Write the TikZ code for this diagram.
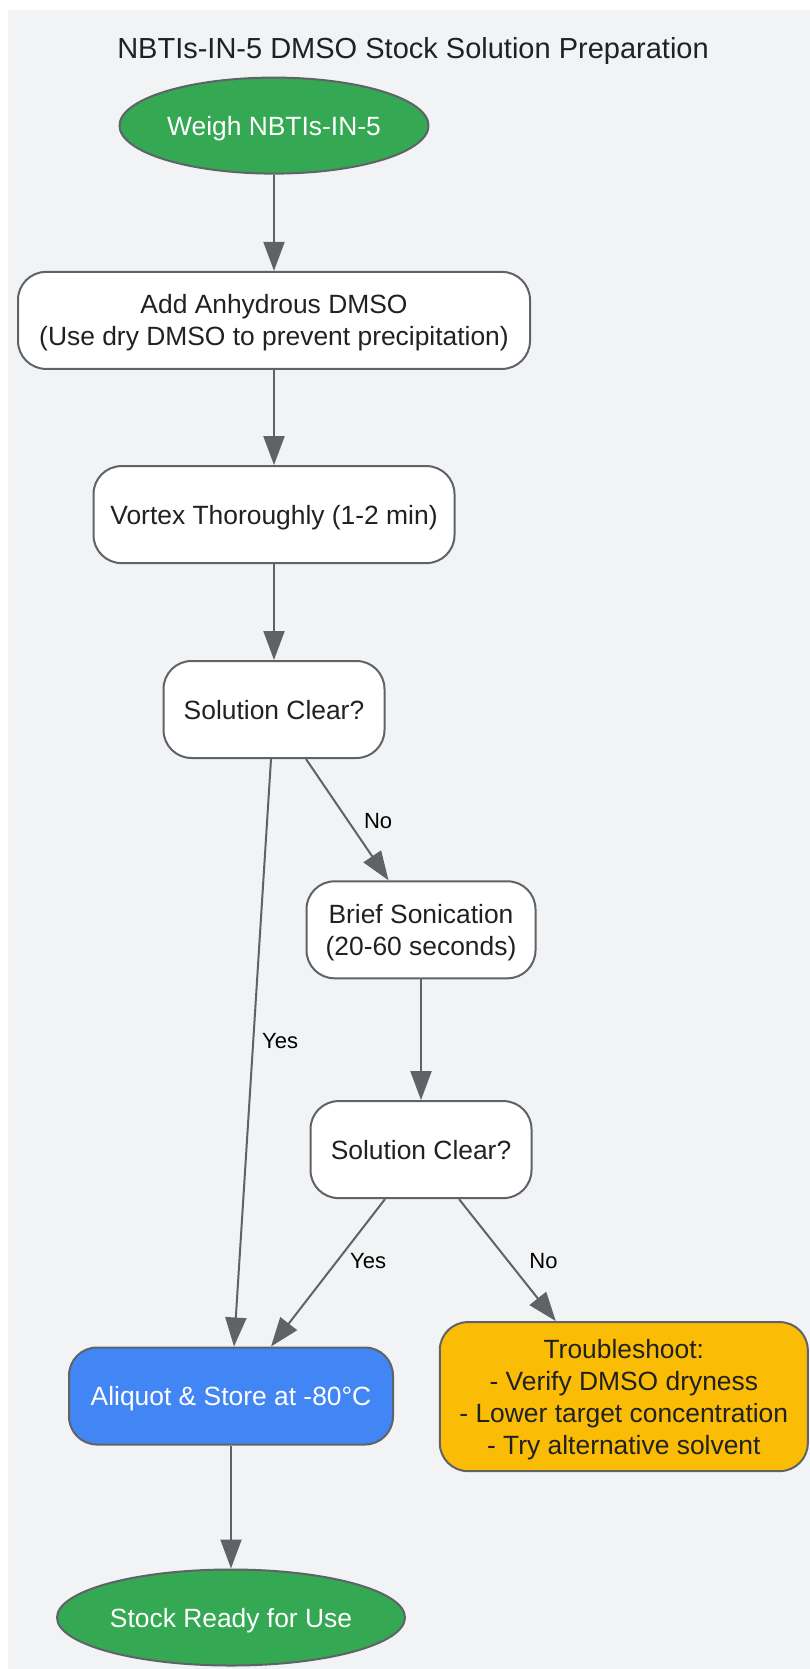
\documentclass[tikz,border=0pt]{standalone}
\usepackage{fontspec}
\setmainfont{Liberation Sans}
\usetikzlibrary{shapes.geometric,arrows.meta}
\definecolor{bggray}{HTML}{F1F3F4}
\definecolor{edgegray}{HTML}{5F6368}
\definecolor{textdark}{HTML}{202124}
\definecolor{startgreen}{HTML}{34A853}
\definecolor{storeblue}{HTML}{4285F4}
\definecolor{warnyellow}{HTML}{FBBC05}
\begin{document}
\begin{tikzpicture}[x=1pt,y=-1pt]
\tikzstyle{stepbox} = [draw=edgegray, line width=2pt, rounded corners=28pt, fill=white, text=textdark, minimum height=97pt, text depth=0pt, align=center, font=\fontsize{26.4}{32}\selectfont]
\tikzstyle{terminal} = [ellipse, draw=edgegray, line width=2pt, fill=startgreen, text=white, minimum height=96pt, text depth=0pt, inner sep=0pt, font=\fontsize{26.4}{32}\selectfont]
\tikzstyle{flow} = [draw=edgegray, line width=2pt, -{Triangle[length=29pt,width=21pt]}]
\tikzstyle{branch} = [right, inner sep=0pt, text=black, font=\fontsize{22}{26}\selectfont]
\useasboundingbox (0,0) rectangle (810,1669);
\fill[bggray] (8,10) rectangle (810,1669);
\node[text=textdark, font=\fontsize{29}{34}\selectfont] (title) at (413,51) {NBTIs-IN-5 DMSO Stock Solution Preparation};
	\node[terminal, minimum width=309pt] (weigh) at (274,125.6) {Weigh NBTIs-IN-5};
	\node[stepbox, minimum width=512pt] (dmso) at (274,320.4) {Add Anhydrous DMSO\\(Use dry DMSO to prevent precipitation)};
	\node[stepbox, minimum width=361pt] (vortex) at (274,514.6) {Vortex Thoroughly (1-2 min)};
	\node[stepbox, minimum width=221pt] (clearA) at (274,709.5) {Solution Clear?};
	\node[stepbox, minimum width=229pt] (sonic) at (421,929.8) {Brief Sonication\\(20-60 seconds)};
	\node[stepbox, minimum width=221pt] (clearB) at (421,1149.6) {Solution Clear?};
	\node[stepbox, fill=storeblue, text=white, minimum width=324pt] (store) at (231,1396) {Aliquot \& Store at -80°C};
	\node[stepbox, fill=warnyellow, minimum width=368pt, minimum height=149pt] (trouble) at (623.8,1396.6) {Troubleshoot:\\- Verify DMSO dryness\\- Lower target concentration\\- Try alternative solvent};
	\node[terminal, minimum width=348pt] (ready) at (231,1617.5) {Stock Ready for Use};
	\draw[flow] (weigh) -- (dmso);
	\draw[flow] (dmso) -- (vortex);
	\draw[flow] (vortex) -- (clearA);
	\draw[flow] ([xshift=-3pt]clearA.south) -- node[branch, pos=0.48, xshift=8pt] {Yes} ([xshift=3pt]store.north);
	\draw[flow] ([xshift=32pt]clearA.south) -- node[branch, pos=0.51, xshift=15pt] {No} ([xshift=-32.5pt]sonic.north);
	\draw[flow] (sonic) -- (clearB);
	\draw[flow] ([xshift=-36pt]clearB.south) -- node[branch, pos=0.42, xshift=12pt] {Yes} ([xshift=40pt]store.north);
	\draw[flow] ([xshift=38pt]clearB.south) -- node[branch, pos=0.51, xshift=20pt] {No} ([xshift=-68pt]trouble.north);
	\draw[flow] (store) -- (ready);
\end{tikzpicture}
\end{document}
